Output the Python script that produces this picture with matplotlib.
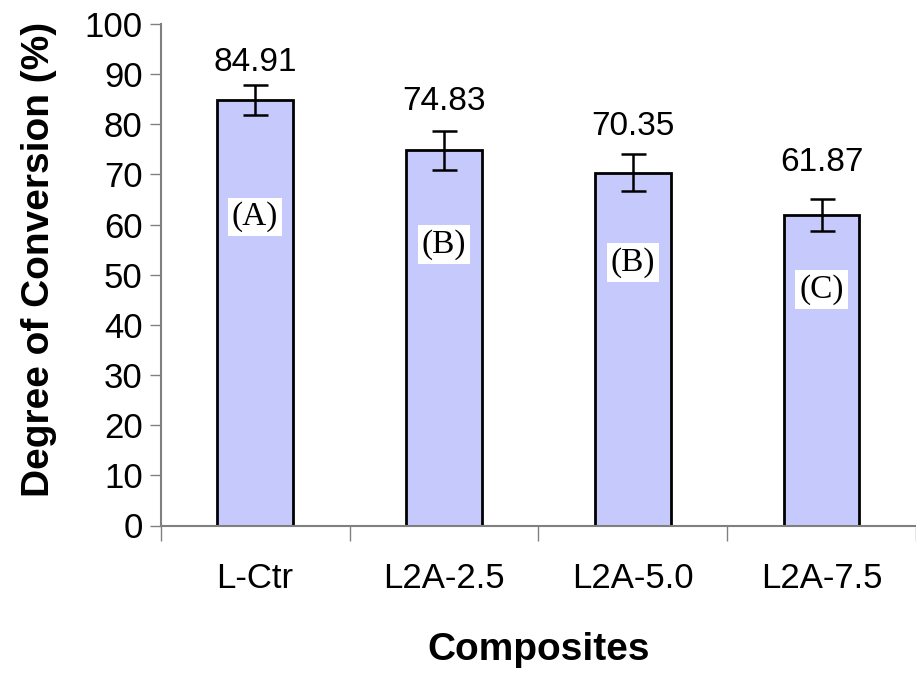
import matplotlib.pyplot as plt
import numpy as np

plt.rcParams['font.family'] = ['Liberation Sans', 'DejaVu Sans']

composites = ['L-Ctr', 'L2A-2.5', 'L2A-5.0', 'L2A-7.5']
conversion = [84.91, 74.83, 70.35, 61.87]
errors = [3.0, 3.9, 3.7, 3.2]
groups = ['(A)', '(B)', '(B)', '(C)']
group_y = [61.5, 56.0, 52.5, 47.0]
value_y = [92.4, 84.6, 79.6, 72.3]

x = np.arange(len(composites))

fig = plt.figure(figsize=(9.16, 6.73), dpi=100)
ax = fig.add_axes([160.7 / 916, 1 - 525.5 / 673, 1 - 160.7 / 916, (525.5 - 24) / 673])

ax.bar(x, conversion, width=0.4, color='#c6c9fb', edgecolor='black', linewidth=2, zorder=2)
ax.errorbar(x, conversion, yerr=errors, fmt='none', ecolor='black',
            elinewidth=1.8, capsize=9, capthick=1.8, zorder=3)

for xi, v, vy in zip(x, conversion, value_y):
    ax.text(xi, vy, f'{v:.2f}', ha='center', va='center', fontsize=24)

for xi, g, gy in zip(x, groups, group_y):
    ax.text(xi, gy, g, ha='center', va='center', fontsize=24,
            family=['Liberation Serif', 'DejaVu Serif'],
            bbox=dict(facecolor='white', edgecolor='none', pad=3), zorder=4)

ax.set_xlim(-0.5, -0.5 + (916 - 160.7) / 191)
ax.set_ylim(0, 100)
ax.set_yticks(range(0, 101, 10))
ax.set_xticks(x)
ax.set_xticklabels(composites, fontsize=25)
ax.set_xticks(np.arange(-0.5, 3.6, 1), minor=True)
ax.tick_params(axis='x', which='major', length=0, pad=26)
ax.tick_params(axis='x', which='minor', length=11, width=1, color='#808080')
ax.tick_params(axis='y', labelsize=25, length=8, width=1, color='#808080', pad=5)

for s in ['top', 'right']:
    ax.spines[s].set_visible(False)
for s in ['left', 'bottom']:
    ax.spines[s].set_color('#808080')
    ax.spines[s].set_linewidth(1.5)

ax.set_ylabel('Degree of Conversion (%)', fontsize=28, fontweight='bold')
ax.yaxis.set_label_coords(-0.137, 0.53)
ax.set_xlabel('Composites', fontsize=28, fontweight='bold')
ax.xaxis.set_label_coords(0.5, -0.213)

plt.savefig('out.png', dpi=100)
